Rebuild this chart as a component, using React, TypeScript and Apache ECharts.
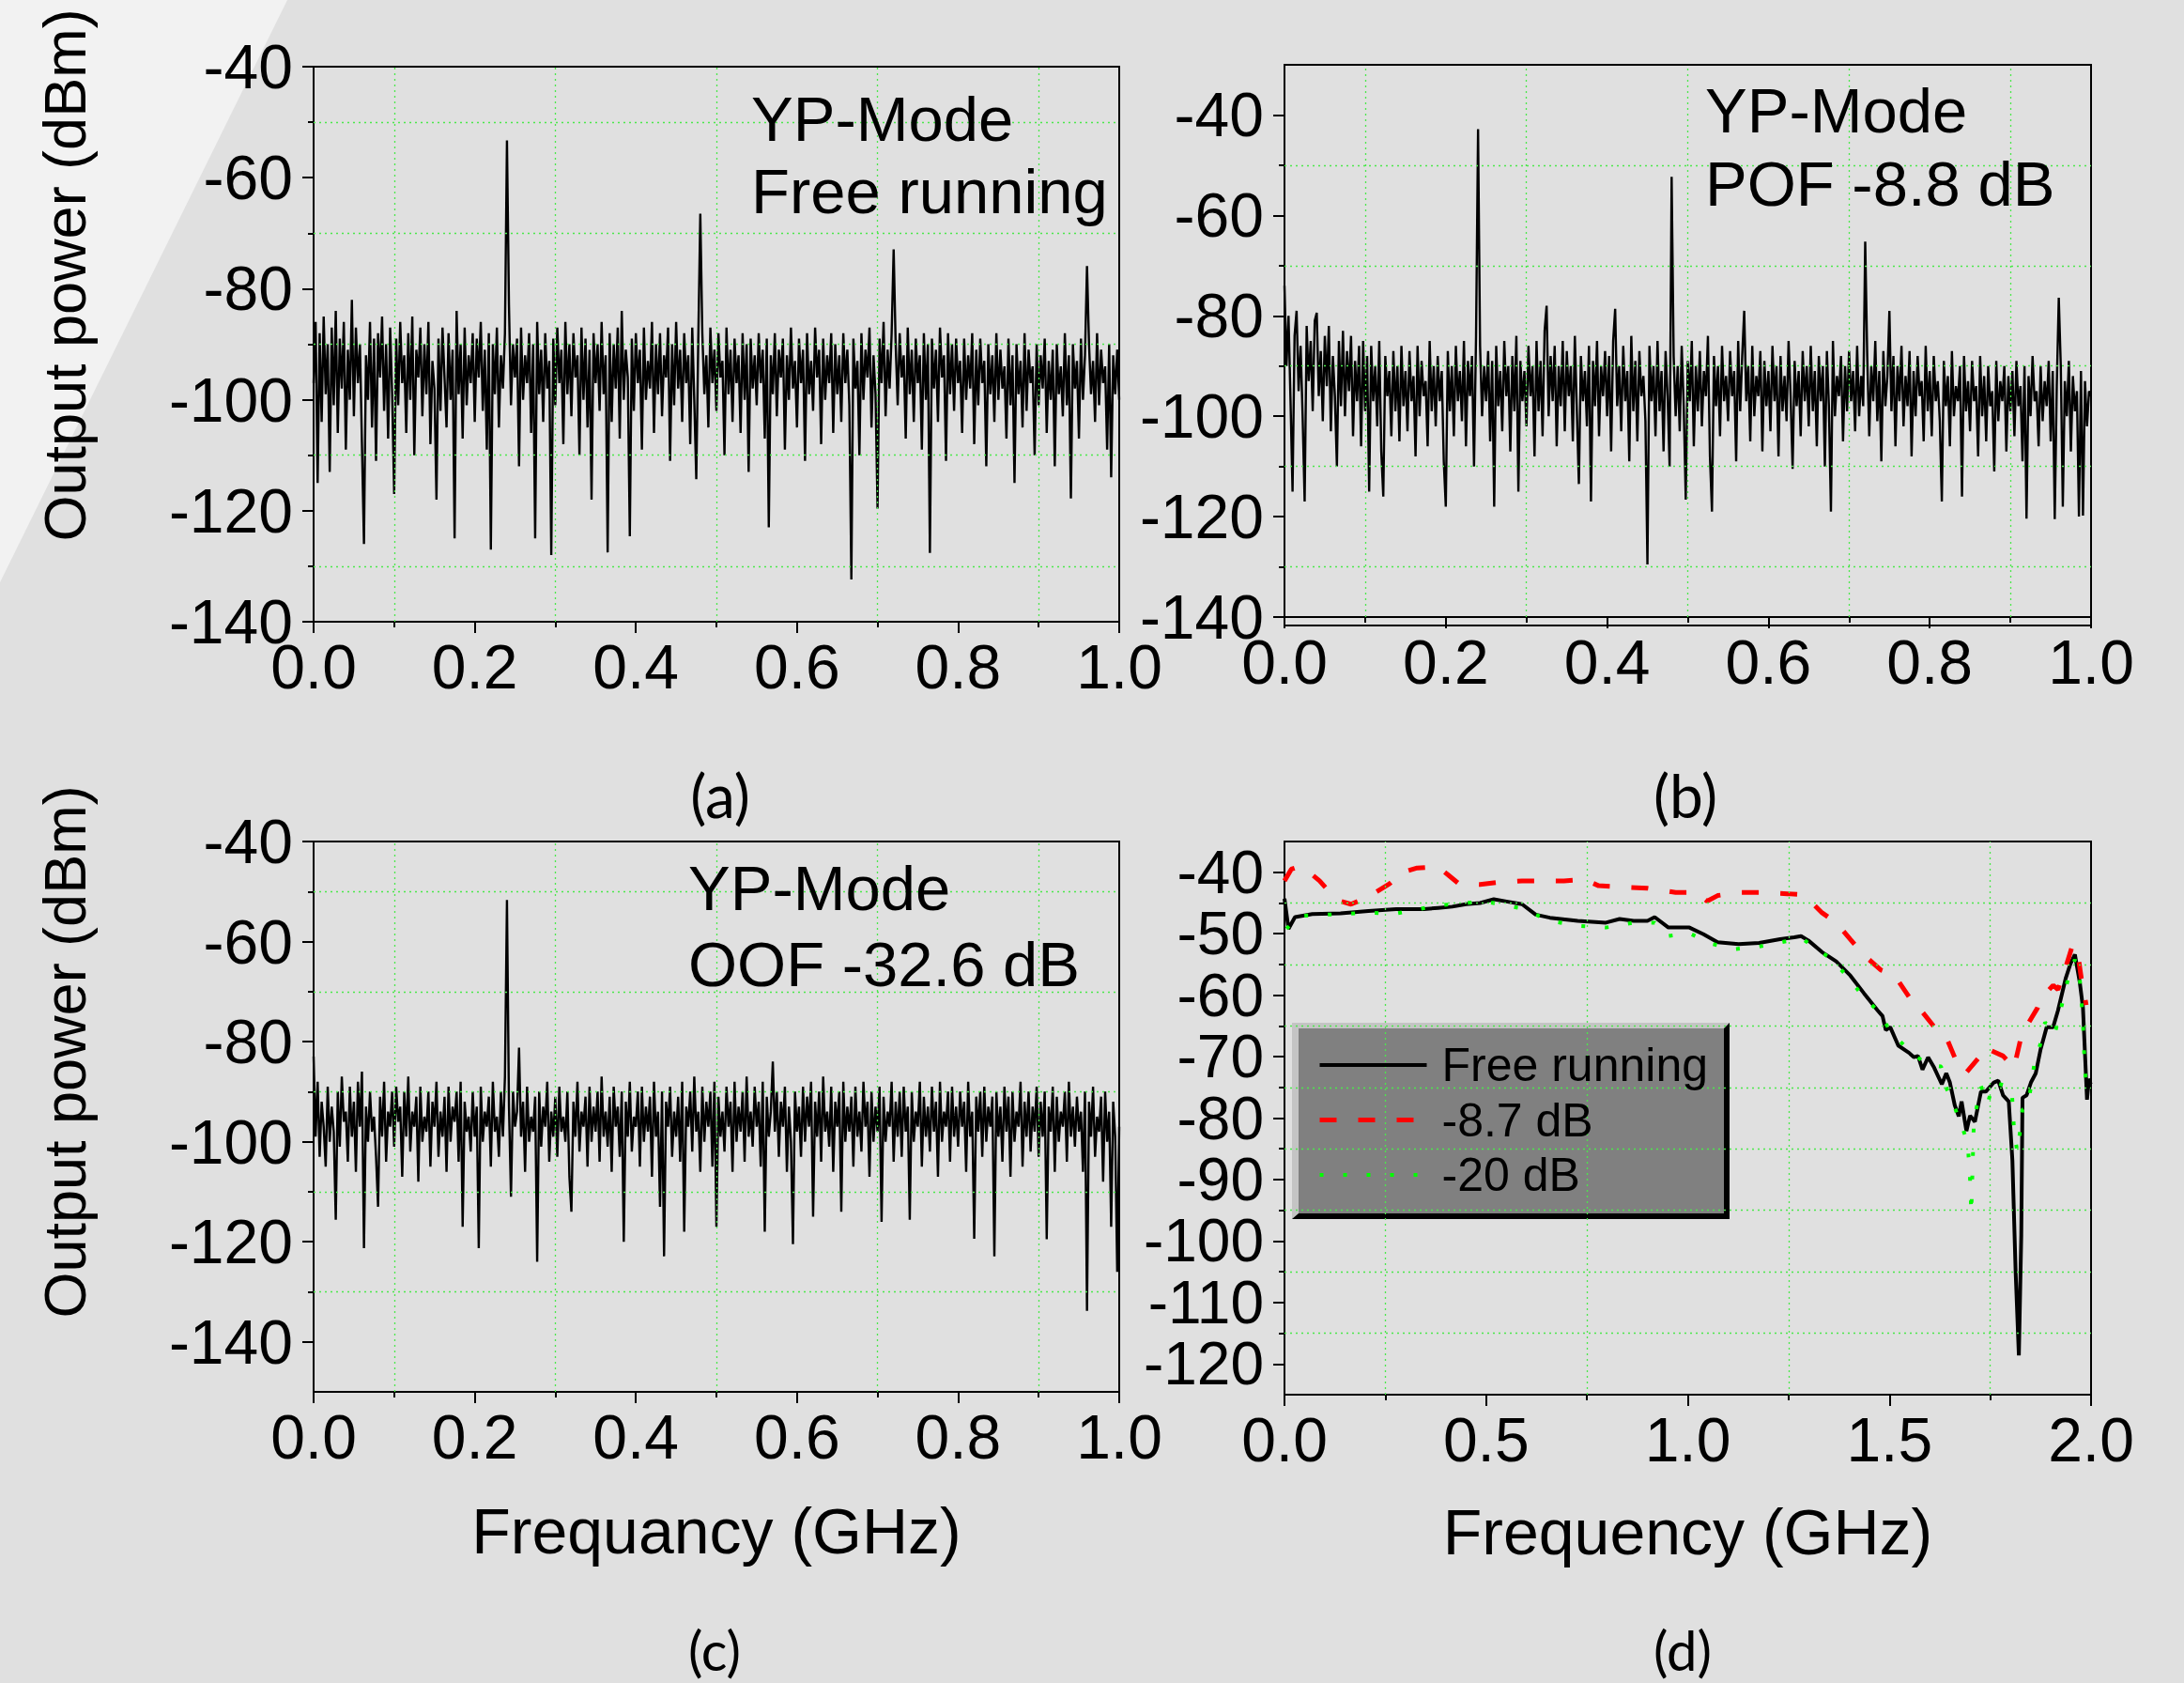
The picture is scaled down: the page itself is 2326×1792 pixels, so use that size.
import React, { useEffect, useRef } from "react";
import * as echarts from "echarts";

const FONT = '"Liberation Sans", Arial, Helvetica, sans-serif';
const LABEL_FONT = 'Lato, "Open Sans", sans-serif';

// ---------- panel (a): YP-Mode, free running (401 samples, 0..1 GHz) ----------
const noiseA = [
  -97, -86, -115, -88, -104, -85, -99, -90, -113, -87, -101, -84, -106, -89, -98, -86, -109, -91, -100, -82,
  -103, -87, -97, -90, -108, -126, -92, -100, -86, -105, -89, -111, -88, -96, -85, -102, -90, -107, -87, -99,
  -117, -89, -101, -86, -97, -92, -106, -88, -100, -85, -110, -91, -96, -87, -103, -90, -99, -86, -108, -93,
  -98, -118, -89, -102, -87, -96, -105, -88, -100, -91, -125, -84, -99, -90, -107, -87, -101, -92, -97, -88,
  -104, -89, -96, -86, -102, -91, -109, -88, -127, -90, -99, -87, -105, -92, -98, -88, -53.3, -83, -101, -90,
  -96, -89, -112, -87, -100, -92, -97, -88, -106, -90, -125, -86, -99, -91, -104, -88, -98, -93, -128, -89,
  -101, -87, -97, -91, -108, -86, -99, -90, -103, -88, -96, -92, -110, -87, -100, -89, -105, -91, -118, -88,
  -97, -90, -102, -86, -99, -92, -127.5, -88, -104, -90, -98, -87, -107, -84, -100, -91, -96, -124.6, -89, -102,
  -88, -97, -91, -109, -87, -100, -93, -98, -86, -106, -90, -99, -88, -103, -92, -96, -87, -111, -90, -101,
  -86, -98, -91, -104, -88, -97, -92, -108, -87, -100, -114.3, -89, -66.5, -88, -99, -92, -105, -87, -97, -91,
  -102, -88, -96, -93, -110, -87, -99, -91, -104, -89, -97, -92, -106, -88, -100, -90, -113, -89, -98, -92,
  -101, -88, -97, -91, -107, -89, -123, -92, -99, -88, -103, -91, -96, -89, -109, -92, -100, -87, -98, -93,
  -105, -89, -97, -91, -111, -88, -99, -93, -102, -87, -96, -91, -108, -89, -100, -92, -97, -88, -106, -90,
  -99, -92, -104, -88, -97, -91, -101, -132.4, -89, -98, -93, -110, -88, -100, -91, -96, -87, -105, -92, -99,
  -119.6, -89, -97, -86, -103, -91, -98, -88, -72.9, -90, -101, -88, -96, -92, -107, -87, -99, -91, -104, -89,
  -97, -92, -109, -88, -100, -90, -127.6, -89, -98, -91, -104, -87, -96, -92, -111, -88, -99, -90, -102, -89,
  -97, -93, -106, -89, -100, -92, -98, -88, -108, -91, -101, -89, -97, -93, -112, -90, -99, -92, -104, -88,
  -100, -91, -98, -94, -107, -89, -101, -92, -115, -90, -99, -93, -105, -88, -102, -91, -97, -94, -110, -90,
  -101, -92, -98, -89, -106, -93, -100, -91, -112, -90, -99, -94, -103, -88, -101, -92, -117.8, -90, -98, -93,
  -107, -89, -100, -92, -75.9, -90, -99, -93, -104, -88, -101, -91, -97, -94, -109, -90, -114, -92, -99, -91,
  -100,
];

// ---------- panel (b): YP-Mode, POF -8.8 dB ----------
const noiseB = [
  -74, -90, -80, -97, -115, -84, -79, -95, -86, -100, -117, -82, -93, -85, -99, -81, -79.4, -96, -87, -101,
  -84, -94, -82, -103, -88, -96, -110, -85, -98, -83, -100, -87, -95, -84, -104, -89, -97, -86, -106, -85,
  -99, -88, -115, -86, -97, -90, -102, -85, -107, -116, -88, -96, -91, -104, -87, -99, -90, -105, -86, -98,
  -91, -103, -87, -97, -92, -108, -86, -100, -89, -96, -93, -106, -85, -99, -90, -102, -88, -97, -91, -109,
  -118, -87, -99, -90, -104, -86, -97, -91, -101, -85, -106, -89, -96, -88, -110, -84, -42.8, -86, -100, -90,
  -97, -87, -105, -89, -118, -86, -98, -91, -103, -85, -96, -90, -107, -88, -99, -84, -115, -89, -97, -91,
  -102, -86, -96, -90, -108, -85, -99, -89, -104, -83, -78, -100, -88, -97, -86, -106, -90, -98, -85, -103,
  -87, -96, -90, -105, -84, -99, -113.5, -88, -97, -91, -102, -86, -117, -89, -98, -85, -104, -90, -96, -87,
  -100, -88, -107, -85, -78.6, -98, -90, -103, -86, -97, -91, -109, -84, -99, -89, -105, -87, -96, -92, -101,
  -129.5, -86, -97, -90, -104, -85, -99, -91, -107, -87, -96, -110, -52.3, -88, -100, -90, -103, -86, -98, -116.6,
  -89, -97, -85, -106, -90, -99, -87, -102, -91, -96, -84, -108, -119, -88, -98, -90, -104, -86, -97, -92,
  -101, -87, -96, -91, -109, -85, -99, -88, -79, -97, -90, -105, -86, -100, -92, -96, -87, -107, -89, -98,
  -91, -103, -86, -97, -90, -108, -88, -99, -92, -101, -85, -96, -110.5, -89, -98, -91, -104, -87, -97, -90,
  -102, -86, -99, -91, -106, -88, -97, -90, -110, -87, -98, -119, -85, -100, -92, -96, -88, -105, -90, -99,
  -87, -97, -91, -103, -86, -100, -92, -98, -65.2, -88, -104, -90, -97, -85, -101, -91, -109, -87, -98, -92,
  -79, -99, -88, -106, -90, -97, -86, -102, -92, -98, -87, -108, -91, -100, -88, -96, -93, -105, -86, -99,
  -91, -104, -88, -97, -93, -101, -117, -89, -98, -92, -106, -87, -100, -94, -97, -90, -116, -88, -99, -93,
  -103, -89, -97, -94, -108, -88, -100, -92, -105, -90, -98, -95, -111, -89, -101, -93, -97, -90, -107, -92,
  -99, -91, -104, -89, -98, -94, -109, -90, -120.4, -92, -100, -88, -97, -95, -106, -90, -101, -93, -98, -89,
  -105, -91, -120.5, -94, -76.4, -90, -118, -93, -100, -89, -107, -92, -99, -95, -120, -91, -119.8, -93, -102, -95,
  -96,
];

// ---------- panel (c): YP-Mode, OOF -32.6 dB ----------
const noiseC = [
  -83, -99, -88, -103, -92, -97, -105, -89, -100, -93, -98, -115.6, -90, -101, -87, -96, -94, -104, -89, -99,
  -92, -106, -88, -97, -86, -121.3, -93, -100, -90, -98, -95, -103, -113, -91, -99, -88, -104, -94, -97, -90,
  -101, -89, -96, -93, -107, -90, -99, -87, -102, -94, -97, -91, -108, -89, -100, -95, -98, -90, -105, -92,
  -97, -88, -103, -94, -99, -91, -106, -89, -100, -93, -96, -90, -104, -88, -117, -92, -98, -95, -102, -90,
  -99, -93, -121.3, -89, -100, -94, -97, -91, -105, -88, -98, -95, -103, -90, -99, -87, -51.7, -93, -111, -90,
  -97, -94, -81.2, -99, -92, -106, -89, -100, -95, -98, -91, -124, -90, -101, -93, -97, -88, -104, -94, -99,
  -91, -103, -89, -98, -95, -100, -90, -107, -114, -92, -99, -88, -102, -94, -97, -91, -105, -89, -100, -93,
  -98, -90, -104, -87, -99, -94, -101, -91, -106, -89, -97, -93, -103, -90, -120, -92, -99, -88, -102, -95,
  -97, -90, -105, -89, -100, -93, -98, -91, -107, -88, -99, -94, -113, -90, -122.9, -92, -97, -89, -103, -94,
  -99, -91, -104, -88, -118, -93, -97, -90, -102, -87, -98, -94, -106, -89, -100, -92, -97, -90, -105, -88,
  -117, -91, -99, -94, -102, -89, -97, -92, -106, -88, -100, -93, -98, -90, -104, -87, -99, -94, -101, -89,
  -97, -92, -105, -88, -118, -91, -99, -94, -84, -98, -90, -103, -92, -97, -89, -106, -93, -100, -120.5, -90,
  -98, -93, -103, -89, -100, -91, -97, -88, -115, -92, -99, -90, -104, -87, -98, -94, -101, -89, -106, -92,
  -97, -90, -114, -88, -100, -93, -98, -91, -105, -89, -99, -94, -102, -88, -97, -92, -107, -90, -100, -93,
  -98, -89, -116, -91, -100, -94, -97, -88, -104, -92, -99, -90, -103, -89, -98, -93, -115.6, -90, -100, -94,
  -97, -88, -105, -91, -99, -93, -102, -89, -98, -92, -107, -88, -100, -94, -97, -90, -104, -89, -99, -93,
  -101, -90, -97, -92, -106, -88, -99, -94, -119.4, -91, -98, -90, -103, -89, -100, -93, -97, -91, -122.9, -90,
  -99, -93, -104, -89, -98, -91, -107, -90, -100, -94, -97, -88, -105, -92, -99, -90, -102, -93, -98, -89,
  -103, -92, -99, -90, -119.5, -93, -98, -89, -106, -91, -100, -94, -97, -90, -104, -88, -99, -93, -101, -91,
  -98, -94, -106, -90, -133.8, -92, -99, -89, -103, -95, -98, -91, -108, -90, -100, -94, -117, -92, -99, -126,
  -97,
];

// ---------- panel (d): spectra, 0..2 GHz ----------
const freeRunning = [
  [0, -44.3], [0.01, -49.2], [0.026, -47.3], [0.069, -46.8], [0.139, -46.7], [0.208, -46.3], [0.277, -46.0],
  [0.346, -46.0], [0.381, -45.8], [0.416, -45.6], [0.45, -45.2], [0.485, -45.0], [0.519, -44.4], [0.554, -44.8],
  [0.589, -45.2], [0.623, -46.9], [0.658, -47.4], [0.727, -47.9], [0.797, -48.2], [0.831, -47.6], [0.866, -47.9],
  [0.9, -47.9], [0.918, -47.3], [0.952, -49.0], [1.004, -49.0], [1.039, -50.1], [1.074, -51.4], [1.126, -51.7],
  [1.177, -51.5], [1.229, -50.9], [1.264, -50.6], [1.281, -50.4], [1.299, -51.1], [1.333, -53.0], [1.368, -54.5],
  [1.403, -56.8], [1.437, -59.7], [1.471, -62.5], [1.483, -63.4], [1.491, -65.7], [1.502, -65.2], [1.522, -68.2],
  [1.549, -69.4], [1.561, -70.1], [1.571, -69.9], [1.582, -72.1], [1.596, -70.1], [1.611, -71.8], [1.63, -74.5],
  [1.641, -72.7], [1.65, -74.2], [1.662, -77.9], [1.672, -79.7], [1.679, -77.3], [1.691, -82.1], [1.7, -79.6],
  [1.712, -80.6], [1.727, -75.7], [1.739, -75.7], [1.759, -74.2], [1.77, -73.9], [1.782, -76.3], [1.796, -77.3],
  [1.805, -86.9], [1.813, -105], [1.821, -118.6], [1.827, -99], [1.83, -76.7], [1.84, -76.3], [1.851, -74.2],
  [1.863, -72.7], [1.875, -68.8], [1.89, -65.2], [1.906, -65.2], [1.918, -62.5], [1.937, -57.3], [1.949, -54.9],
  [1.96, -53.4], [1.972, -57.9], [1.98, -62.1], [1.99, -77], [1.995, -73.6], [1.999, -74.5],
];
const pof87 = [
  [0, -41.4], [0.017, -39.5], [0.035, -39.1], [0.061, -40], [0.087, -41.4], [0.113, -43.3], [0.139, -44.7],
  [0.165, -45.2], [0.191, -44.5], [0.225, -43.3], [0.26, -41.9], [0.294, -40], [0.329, -39.3], [0.381, -39.1],
  [0.407, -40.5], [0.433, -41.9], [0.485, -42], [0.537, -41.6], [0.589, -41.4], [0.641, -41.4], [0.693, -41.4],
  [0.745, -41.2], [0.779, -42.2], [0.831, -42.4], [0.9, -42.6], [0.97, -43.3], [1.022, -43.3], [1.048, -44.7],
  [1.074, -43.8], [1.126, -43.3], [1.177, -43.3], [1.247, -43.5], [1.273, -43.6], [1.299, -44.4], [1.333, -46.6],
  [1.368, -48.2], [1.403, -50.9], [1.437, -53.5], [1.479, -55.9], [1.502, -56.4], [1.518, -57.3], [1.549, -60.3],
  [1.58, -62.6], [1.619, -65.8], [1.642, -67], [1.665, -70.6], [1.689, -72.7], [1.724, -70], [1.735, -68.5],
  [1.782, -69.9], [1.809, -71.8], [1.828, -66.4], [1.867, -62.1], [1.875, -60.6], [1.906, -58.4], [1.918, -59.1],
  [1.937, -55.5], [1.954, -51.9], [1.968, -53.7], [1.976, -57.3], [1.988, -61.6],
];
const pof20 = [
  [0.005, -49.2], [0.035, -47.1], [0.104, -46.9], [0.208, -46.6], [0.277, -46.7], [0.381, -45.4], [0.45, -45],
  [0.502, -44.8], [0.589, -45.9], [0.658, -47.9], [0.727, -48.7], [0.797, -49], [0.866, -48.2], [0.918, -48.2],
  [0.949, -50.4], [1.004, -49.9], [1.056, -51.6], [1.117, -52.5], [1.177, -52.1], [1.247, -51.2], [1.281, -50.7],
  [1.351, -53.9], [1.394, -56.8], [1.437, -60.4], [1.471, -62.5], [1.504, -66], [1.549, -69], [1.593, -71.3],
  [1.628, -71.6], [1.642, -75.2], [1.66, -77.9], [1.675, -80.6], [1.694, -83.9], [1.7, -90], [1.703, -95.5],
  [1.709, -81.6], [1.716, -78.3], [1.727, -74.8], [1.743, -77.7], [1.759, -74.2], [1.803, -75], [1.809, -81.9],
  [1.817, -85.5], [1.824, -82.2], [1.83, -78.6], [1.843, -78.3], [1.851, -74.8], [1.859, -71.3], [1.875, -67.8],
  [1.886, -64.4], [1.909, -66.5], [1.92, -63.7], [1.945, -56.8], [1.96, -54.2], [1.972, -57.3], [1.98, -64.4],
  [1.984, -71.3], [1.988, -74.8], [1.995, -75.1],
];

// ---------- ticks / grid positions ----------
const yMajor20 = [-140, -120, -100, -80, -60, -40];
const yMinor20 = [-130, -110, -90, -70, -50];
const yMajorD = [-120, -110, -100, -90, -80, -70, -60, -50, -40];
const yMinorD = [-115, -105, -95, -85, -75, -65, -55, -45];
const xMinor1 = [0.1, 0.3, 0.5, 0.7, 0.9];
const xMinor2 = [0.25, 0.75, 1.25, 1.75];

const seriesNames = ["Free running", "-8.7 dB", "-20 dB"];

function spectrum(vals: number[]) {
  return vals.map((v, i) => [i / (vals.length - 1), v]);
}

const BLACK = "#000";
const lineSt = { color: BLACK, width: 2 };

function makeX(gridIndex: number, max: number, interval: number, name?: string, nameGap?: number) {
  return {
    type: "value",
    gridIndex,
    min: 0,
    max,
    interval,
    position: "bottom",
    name: name || "",
    nameLocation: "middle",
    nameGap: nameGap || 0,
    nameTextStyle: { fontSize: 68, fontFamily: FONT, color: BLACK },
    axisLine: { show: true, onZero: false, lineStyle: lineSt },
    axisTick: { show: true, length: 12, lineStyle: lineSt },
    minorTick: { show: true, splitNumber: 2, length: 6, lineStyle: lineSt },
    axisLabel: {
      margin: 15,
      fontSize: 66,
      fontFamily: FONT,
      color: BLACK,
      showMinLabel: true,
      showMaxLabel: true,
      formatter: (v: number) => v.toFixed(1),
    },
    splitLine: { show: false },
    minorSplitLine: { show: false },
  };
}

function makeY(gridIndex: number, min: number, max: number, majors: number[], minors: number[], fs: number) {
  return [
    {
      type: "value",
      gridIndex,
      min,
      max,
      position: "left",
      axisLine: { show: true, onZero: false, lineStyle: lineSt },
      axisTick: { show: true, length: 12, lineStyle: lineSt, customValues: majors },
      axisLabel: {
        customValues: majors,
        margin: 22,
        fontSize: fs,
        lineHeight: Math.min(fs, 60),
        fontFamily: FONT,
        color: BLACK,
        showMinLabel: true,
        showMaxLabel: true,
      },
      splitLine: { show: false },
    },
    {
      type: "value",
      gridIndex,
      min,
      max,
      position: "left",
      axisLine: { show: false },
      axisTick: { show: true, length: 6, lineStyle: lineSt, customValues: minors },
      axisLabel: { show: false },
      splitLine: { show: false },
    },
  ];
}

function gridLines(xIdx: number, yIdx: number, xs: number[], ys: number[]) {
  return {
    type: "line",
    xAxisIndex: xIdx,
    yAxisIndex: yIdx,
    data: [],
    z: 1,
    silent: true,
    markLine: {
      silent: true,
      symbol: ["none", "none"],
      label: { show: false },
      emphasis: { disabled: true },
      lineStyle: { color: "#4be84b", width: 1.3, type: [2, 4] },
      data: [...ys.map((v) => ({ yAxis: v })), ...xs.map((v) => ({ xAxis: v }))],
    },
  };
}

function noiseSeries(xIdx: number, yIdx: number, vals: number[]) {
  return {
    type: "line",
    xAxisIndex: xIdx,
    yAxisIndex: yIdx,
    data: spectrum(vals),
    showSymbol: false,
    symbol: "none",
    silent: true,
    z: 3,
    lineStyle: { color: BLACK, width: 2.4 },
  };
}

function txt(text: string, x: number, y: number, size: number, family = FONT, align = "left", rotation = 0) {
  return {
    type: "text",
    x,
    y,
    rotation,
    z: 10,
    silent: true,
    style: { text, fontSize: size, fontFamily: family, fill: BLACK, align, verticalAlign: "middle" },
  };
}

function dSeries(name: string, data: number[][], lineStyle: any) {
  return {
    name,
    type: "line",
    xAxisIndex: 3,
    yAxisIndex: 6,
    data,
    showSymbol: false,
    symbol: "none",
    z: 3,
    itemStyle: { color: lineStyle.color, opacity: 0 },
    lineStyle,
  };
}

export default function App() {
  const ref = useRef<HTMLDivElement>(null);

  useEffect(() => {
    document.body.style.margin = "0";
    const chart = echarts.init(ref.current!, null, { renderer: "svg" });
    const option: any = {
      animation: false,
      backgroundColor: "#e0e0e0",
      textStyle: { fontFamily: FONT },
      grid: [
        { left: 334, top: 71, width: 858, height: 591, show: true, borderColor: BLACK, borderWidth: 2, backgroundColor: "transparent" },
        { left: 1368, top: 69, width: 859, height: 588, show: true, borderColor: BLACK, borderWidth: 2, backgroundColor: "transparent" },
        { left: 334, top: 896, width: 858, height: 586, show: true, borderColor: BLACK, borderWidth: 2, backgroundColor: "transparent" },
        { left: 1368, top: 896, width: 859, height: 589, show: true, borderColor: BLACK, borderWidth: 2, backgroundColor: "transparent" },
      ],
      xAxis: [
        makeX(0, 1, 0.2),
        makeX(1, 1, 0.2),
        makeX(2, 1, 0.2, "Frequancy (GHz)", 114),
        makeX(3, 2, 0.5, "Frequency (GHz)", 112),
        {
          type: "value",
          gridIndex: 1,
          min: 0,
          max: 1,
          position: "bottom",
          offset: 9,
          axisLine: { show: true, onZero: false, lineStyle: lineSt },
          axisTick: { show: false },
          axisLabel: { show: false },
          splitLine: { show: false },
        },
      ],
      yAxis: [
        ...makeY(0, -140, -40, yMajor20, yMinor20, 66),
        ...makeY(1, -140, -30, yMajor20, yMinor20, 66),
        ...makeY(2, -150, -40, yMajor20, yMinor20, 66),
        ...makeY(3, -125, -35, yMajorD, yMinorD, 64),
      ],
      legend: {
        show: true,
        data: seriesNames,
        orient: "vertical",
        left: 1403,
        top: 1109,
        padding: 0,
        itemWidth: 114,
        itemHeight: 14,
        itemGap: 8.5,
        selectedMode: false,
        z: 6,
        itemStyle: { opacity: 0 },
        lineStyle: { width: "inherit" },
        textStyle: { fontSize: 50, fontFamily: FONT, color: BLACK, lineHeight: 50, padding: [0, 0, 0, 11] },
      },
      graphic: {
        elements: [
          { type: "polygon", z: -10, silent: true, shape: { points: [[0, 0], [306, 0], [0, 620]] }, style: { fill: "#f2f2f2" } },
          { type: "rect", z: 4, silent: true, shape: { x: 1376, y: 1089, width: 466, height: 209 }, style: { fill: "#000" } },
          {
            type: "polygon",
            z: 4,
            silent: true,
            shape: { points: [[1376, 1089], [1842, 1089], [1836, 1095], [1383, 1095], [1383, 1292], [1376, 1298]] },
            style: { fill: "#c4c4c4" },
          },
          { type: "rect", z: 4, silent: true, shape: { x: 1383, y: 1095, width: 453, height: 197 }, style: { fill: "#808080" } },
          txt("YP-Mode", 800, 126, 67),
          txt("Free running", 800, 203, 67),
          txt("YP-Mode", 1816, 117, 67),
          txt("POF -8.8 dB", 1816, 195, 67),
          txt("YP-Mode", 733, 945, 67),
          txt("OOF -32.6 dB", 733, 1026, 67),
          txt("Output power (dBm)", 69, 293, 63, FONT, "center", Math.PI / 2),
          txt("Output power (dBm)", 69, 1120, 63, FONT, "center", Math.PI / 2),
          txt("(a)", 767, 846, 64, LABEL_FONT, "center"),
          txt("(b)", 1795, 846, 64, LABEL_FONT, "center"),
          txt("(c)", 761, 1756, 58, LABEL_FONT, "center"),
          txt("(d)", 1792, 1756, 58, LABEL_FONT, "center"),
        ],
      },
      series: [
        gridLines(0, 0, xMinor1, yMinor20),
        gridLines(1, 2, xMinor1, yMinor20),
        gridLines(2, 4, xMinor1, yMinor20),
        gridLines(3, 6, xMinor2, yMinorD),
        noiseSeries(0, 0, noiseA),
        noiseSeries(1, 2, noiseB),
        noiseSeries(2, 4, noiseC),
        dSeries(seriesNames[0], freeRunning, { color: BLACK, width: 4 }),
        dSeries(seriesNames[1], pof87, { color: "#ff0000", width: 5, type: [18, 23] }),
        dSeries(seriesNames[2], pof20, { color: "#00ff00", width: 4, type: [4, 21] }),
      ],
    };
    chart.setOption(option);
    return () => chart.dispose();
  }, []);

  return (
    <div
      ref={ref}
      style={{ position: "absolute", left: 0, top: 0, width: 2326, height: 1792 }}
    />
  );
}
